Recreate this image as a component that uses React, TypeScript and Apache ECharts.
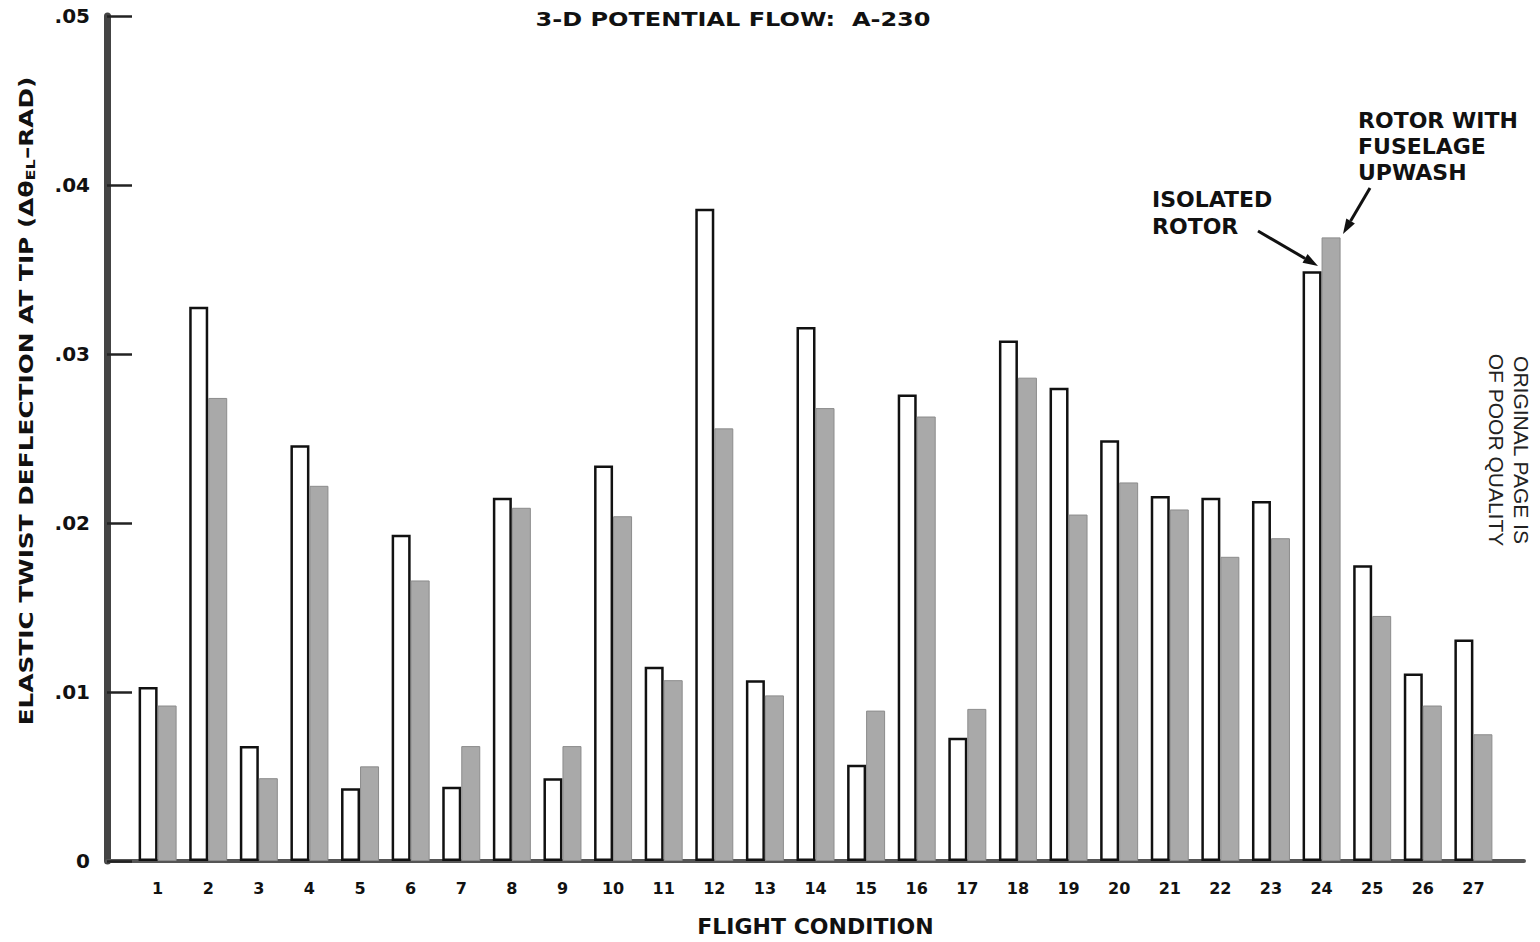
import React, { useEffect, useRef } from "react";
import * as echarts from "echarts";

const conditions = [1, 2, 3, 4, 5, 6, 7, 8, 9, 10, 11, 12, 13, 14, 15, 16, 17, 18, 19, 20, 21, 22, 23, 24, 25, 26, 27];
const isolatedRotor = [
  0.0103, 0.0328, 0.0068, 0.0246, 0.0043, 0.0193, 0.0044, 0.0215, 0.0049, 0.0234,
  0.0115, 0.0386, 0.0107, 0.0316, 0.0057, 0.0276, 0.0073, 0.0308, 0.028, 0.0249,
  0.0216, 0.0215, 0.0213, 0.0349, 0.0175, 0.0111, 0.0131,
];
const withUpwash = [
  0.0092, 0.0274, 0.0049, 0.0222, 0.0056, 0.0166, 0.0068, 0.0209, 0.0068, 0.0204,
  0.0107, 0.0256, 0.0098, 0.0268, 0.0089, 0.0263, 0.009, 0.0286, 0.0205, 0.0224,
  0.0208, 0.018, 0.0191, 0.0369, 0.0145, 0.0092, 0.0075,
];
const yMin = 0;
const yMax = 0.05;
const yStep = 0.01;

const BOLD = "'DejaVu Sans', 'Liberation Sans', Arial, sans-serif";
const PLAIN = "'Liberation Sans', Arial, sans-serif";

function arrow(x1: number, y1: number, x2: number, y2: number) {
  const dx = x2 - x1;
  const dy = y2 - y1;
  const len = Math.sqrt(dx * dx + dy * dy);
  const ux = dx / len;
  const uy = dy / len;
  const hl = 15;
  const hw = 5;
  const bx = x2 - ux * hl;
  const by = y2 - uy * hl;
  return [
    {
      type: "line",
      shape: { x1, y1, x2: bx, y2: by },
      style: { stroke: "#111", lineWidth: 3 },
    },
    {
      type: "polygon",
      shape: {
        points: [
          [x2, y2],
          [bx - uy * hw, by + ux * hw],
          [bx + uy * hw, by - ux * hw],
        ],
      },
      style: { fill: "#111" },
    },
  ];
}

export default function App() {
  const ref = useRef<HTMLDivElement>(null);

  useEffect(() => {
    if (!ref.current) return;
    const chart = echarts.init(ref.current, undefined, { renderer: "svg" });
    const option = {
      animation: false,
      backgroundColor: "#ffffff",
      grid: { left: 107, right: 16, top: 16, bottom: 76, containLabel: false },
      xAxis: {
        type: "value",
        min: 0,
        max: 28,
        interval: 1,
        axisLine: { show: true, onZero: false, lineStyle: { color: "#555", width: 4 } },
        axisTick: { show: false },
        splitLine: { show: false },
        axisLabel: {
          margin: 19,
          fontSize: 16,
          fontWeight: "bold",
          fontFamily: BOLD,
          color: "#111",
          formatter: (v: number) => (v >= 1 && v <= 27 ? String(v) : ""),
        },
        name: "FLIGHT CONDITION",
        nameLocation: "middle",
        nameGap: 54,
        nameTextStyle: { fontSize: 22, fontWeight: "bold", fontFamily: BOLD, color: "#111" },
      },
      yAxis: {
        type: "value",
        min: yMin,
        max: yMax,
        interval: yStep,
        axisLine: { show: true, lineStyle: { color: "#444", width: 7 } },
        axisTick: { show: true, inside: true, length: 25, lineStyle: { color: "#222", width: 2.5 } },
        splitLine: { show: false },
        axisLabel: {
          margin: 17,
          fontSize: 20,
          fontWeight: "bold",
          fontFamily: BOLD,
          color: "#111",
          formatter: (v: number) => (v === 0 ? "0" : v.toFixed(2).replace(/^0/, "")),
        },
      },
      series: [
        {
          name: "ISOLATED ROTOR",
          type: "bar",
          barWidth: 19,
          barGap: "0%",
          data: conditions.map((c, i) => [c, isolatedRotor[i]]),
          itemStyle: { color: "#ffffff", borderColor: "#111", borderWidth: 2.5 },
        },
        {
          name: "ROTOR WITH FUSELAGE UPWASH",
          type: "bar",
          barWidth: 19,
          barGap: "0%",
          data: conditions.map((c, i) => [c, withUpwash[i]]),
          itemStyle: { color: "#a9a9a9", borderColor: "#8c8c8c", borderWidth: 1 },
        },
      ],
      graphic: [
        {
          type: "text",
          x: 733,
          y: 19,
          scaleX: 1.2,
          style: {
            text: "3-D POTENTIAL FLOW:  A-230",
            font: `bold 20px ${BOLD}`,
            fill: "#111",
            align: "center",
            verticalAlign: "middle",
          },
        },
        {
          type: "text",
          x: 26,
          y: 401,
          rotation: Math.PI / 2,
          scaleX: 1.24,
          style: {
            text: "ELASTIC TWIST DEFLECTION AT TIP (Δθ{sub|EL}–RAD)",
            font: `bold 20px ${BOLD}`,
            fill: "#111",
            align: "center",
            verticalAlign: "middle",
            rich: {
              sub: {
                fontSize: 13,
                fontWeight: "bold",
                fontFamily: BOLD,
                fill: "#111",
                padding: [9, 0, 0, 0],
              },
            },
          },
        },
        {
          type: "text",
          x: 1152,
          y: 213,
          style: {
            text: "ISOLATED\nROTOR",
            font: `bold 22px ${BOLD}`,
            lineHeight: 27,
            fill: "#111",
            align: "left",
            verticalAlign: "middle",
          },
        },
        {
          type: "text",
          x: 1358,
          y: 146,
          style: {
            text: "ROTOR WITH\nFUSELAGE\nUPWASH",
            font: `bold 22px ${BOLD}`,
            lineHeight: 26,
            fill: "#111",
            align: "left",
            verticalAlign: "middle",
          },
        },
        ...arrow(1258, 231, 1318, 266),
        ...arrow(1370, 188, 1343, 234),
        {
          type: "text",
          x: 1509,
          y: 450,
          rotation: -Math.PI / 2,
          style: {
            text: "ORIGINAL PAGE IS\nOF POOR QUALITY",
            font: `21px ${PLAIN}`,
            lineHeight: 25,
            fill: "#222",
            align: "center",
            verticalAlign: "middle",
          },
        },
      ],
    };
    chart.setOption(option as any);
    return () => {
      chart.dispose();
    };
  }, []);

  return (
    <div
      ref={ref}
      style={{ position: "fixed", left: 0, top: 0, width: 1540, height: 942, background: "#fff" }}
    />
  );
}
